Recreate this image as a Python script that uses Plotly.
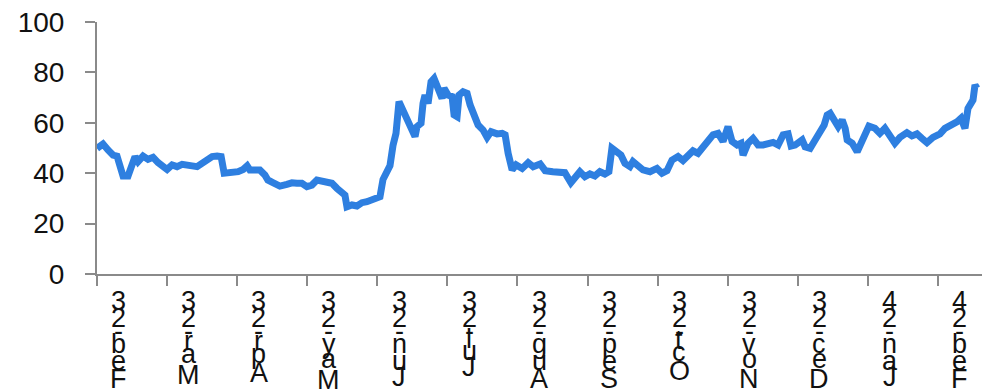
import plotly.graph_objects as go

# ---- data ----
# x: trading-day index from the start of Feb-23; y: series value
x_days = [0, 1.8, 3.3, 4.8, 6.0, 6.9, 7.8, 9.3, 10.5, 11.4, 12.3, 13.8, 15.3, 16.8, 18.3, 19.8,
          21.0, 22.5, 24.0, 25.5, 27.0, 28.5, 30.0, 31.5, 33.0, 34.5, 36.0, 37.2, 38.1, 39.3,
          40.8, 42.3, 43.8, 45.0, 45.8, 47.3, 48.8, 50.3, 51.2, 52.7, 54.8, 56.9, 58.4, 59.9,
          61.4, 62.9, 64.4, 65.9, 67.4, 68.9, 70.4, 71.9, 73.4, 74.3, 74.9, 76.4, 77.9, 79.4,
          80.9, 82.4, 83.9, 84.8, 85.7, 86.9, 87.8, 88.7, 89.6, 90.5, 91.4, 92.3, 93.2, 94.4,
          95.3, 95.9, 97.1, 97.7, 98.3, 99.2, 100.1, 101.0, 101.9, 103.4, 104.0, 105.2, 106.4,
          107.0, 107.9, 108.5, 109.7, 110.9, 111.8, 113.0, 114.2, 115.7, 116.9, 118.1, 119.9,
          121.4, 122.3, 123.2, 124.4, 125.6, 127.4, 129.2, 130.7, 132.8, 134.3, 136.6, 138.7,
          140.2, 142.0, 143.2, 144.7, 146.2, 147.7, 149.2, 150.7, 152.2, 153.4, 154.3, 155.8,
          157.0, 158.2, 159.7, 160.6, 162.1, 163.6, 165.7, 167.8, 169.3, 170.8, 172.3, 174.1,
          175.6, 177.1, 178.6, 180.1, 181.6, 183.1, 184.6, 186.1, 187.6, 189.1, 190.3, 191.8,
          193.0, 193.6, 195.1, 196.6, 198.1, 199.6, 201.1, 202.6, 204.1, 205.6, 207.1, 208.0,
          209.2, 211.3, 212.2, 213.7, 215.2, 216.7, 217.9, 218.8, 219.7, 220.9, 222.1, 223.3,
          224.2, 224.8, 226.3, 227.8, 229.2, 230.1, 231.3, 233.1, 234.6, 236.1, 237.6, 239.1,
          240.6, 242.7, 244.2, 245.7, 247.2, 248.7, 250.5, 252.6, 254.1, 256.2, 257.7, 258.9,
          260.1, 261.0, 262.5, 263.1, 263.7]
values = [49.8, 51.6, 49.2, 47.2, 46.8, 42.6, 38.9, 38.9, 44.0, 46.6, 44.6, 46.8, 45.5, 46.3, 44.2, 42.6,
          41.5, 43.3, 42.6, 43.5, 43.5, 42.9, 42.6, 43.9, 44.6, 46.6, 46.8, 46.6, 40.0, 40.0,
          40.6, 40.6, 41.5, 42.9, 41.3, 41.5, 41.3, 39.3, 37.3, 36.3, 34.9, 35.6, 36.2, 36.0,
          36.0, 34.7, 35.3, 37.3, 37.0, 36.2, 36.0, 34.0, 32.7, 31.3, 26.7, 27.4, 27.0, 28.3,
          28.7, 29.4, 29.8, 30.7, 37.5, 41.0, 43.0, 51.0, 55.8, 68.4, 65.7, 63.1, 60.4, 55.8,
          54.5, 58.5, 59.8, 67.7, 71.0, 67.7, 76.3, 77.6, 74.3, 69.7, 73.7, 71.0, 70.4,
          63.1, 62.4, 71.0, 72.3, 71.7, 67.1, 63.8, 59.1, 57.1, 54.2, 56.5, 55.6,
          55.8, 55.2, 47.9, 41.3, 43.3, 41.9, 44.2, 42.6, 43.7, 41.0, 40.6, 40.6,
          40.2, 36.2, 38.0, 40.6, 38.6, 39.7, 38.9, 40.6, 39.7, 40.6, 49.9, 48.5,
          47.2, 43.9, 42.6, 44.6, 43.3, 41.3, 40.6, 41.9, 40.0, 41.0, 45.2, 46.6,
          45.0, 47.2, 48.9, 47.9, 50.5, 52.6, 55.2, 55.8, 52.6, 58.5, 52.6, 51.2,
          51.9, 47.2, 51.9, 53.8, 51.2, 51.2, 51.9, 52.2, 51.2, 55.2, 55.6, 50.8,
          51.2, 53.2, 50.5, 49.9, 53.2, 57.1, 59.1, 63.1, 63.8, 61.1, 58.5, 61.1,
          57.8, 53.2, 51.9, 48.5, 52.6, 54.5, 58.7, 57.8, 55.8, 57.8, 55.2, 51.9,
          54.2, 56.1, 54.8, 55.6, 53.8, 52.1, 54.2, 55.6, 57.8, 59.1, 60.4, 61.8,
          57.8, 65.7, 69.0, 75.0, 73.7]

tick_labels = ["Feb-23", "Mar-23", "Apr-23", "May-23", "Jun-23", "Jul-23", "Aug-23",
               "Sep-23", "Oct-23", "Nov-23", "Dec-23", "Jan-24", "Feb-24"]
days_per_month = 21
tick_vals = [i * days_per_month for i in range(len(tick_labels))]
y_ticks = [0, 20, 40, 60, 80, 100]

FONT = "Liberation Sans"
AXIS_GREY = "#8a8a8a"
LINE_BLUE = "#2e7fe0"

fig = go.Figure()
fig.add_trace(go.Scatter(x=x_days, y=values, mode="lines",
                         line=dict(color=LINE_BLUE, width=7),
                         hoverinfo="skip", showlegend=False))

# stacked upright characters for the x labels (reversed, as in the reference)
widths = {"0": .556, "1": .556, "2": .556, "3": .556, "4": .556, "-": .333,
          "a": .556, "b": .556, "c": .5, "e": .556, "g": .556, "l": .222, "n": .556,
          "o": .556, "p": .556, "r": .333, "t": .278, "u": .556, "v": .5, "y": .5,
          "A": .667, "D": .722, "F": .611, "J": .5, "M": .833, "N": .722, "O": .778, "S": .667}
EM = 30
annotations = []
for tv, lab in zip(tick_vals, tick_labels):
    chars = list(reversed(lab))
    pos = 0.0
    first_c = widths.get(chars[0], .556) / 2
    for ch in chars:
        w = widths.get(ch, .556)
        center = pos + w / 2
        annotations.append(dict(
            x=tv + 6.5, y=0, xref="x", yref="paper", text=ch, showarrow=False,
            xanchor="center", yanchor="middle",
            yshift=-(27 + (center - first_c) * EM),
            font=dict(family=FONT, size=27, color="#111111")))
        pos += w

# the page body adds an 8px margin, so the figure is sized to fit the window
fig.update_layout(
    width=989, height=384,
    margin=dict(l=89, r=15, t=14, b=118, autoexpand=False),
    paper_bgcolor="white", plot_bgcolor="white",
    annotations=annotations,
    xaxis=dict(range=[0, 265.2], tickvals=tick_vals, showticklabels=False,
               ticks="outside", ticklen=10, tickwidth=2, tickcolor=AXIS_GREY,
               showline=True, linewidth=2, linecolor=AXIS_GREY,
               showgrid=False, zeroline=False, automargin=False),
    yaxis=dict(range=[0, 100], tickvals=y_ticks, ticks="outside", ticklen=10,
               tickwidth=2, tickcolor=AXIS_GREY, showline=True, linewidth=2,
               linecolor=AXIS_GREY, showgrid=False, zeroline=False,
               ticklabelstandoff=15, automargin=False, ticklabeloverflow="allow",
               tickfont=dict(family=FONT, size=28, color="#111111")),
)

fig.write_html("out.html")
